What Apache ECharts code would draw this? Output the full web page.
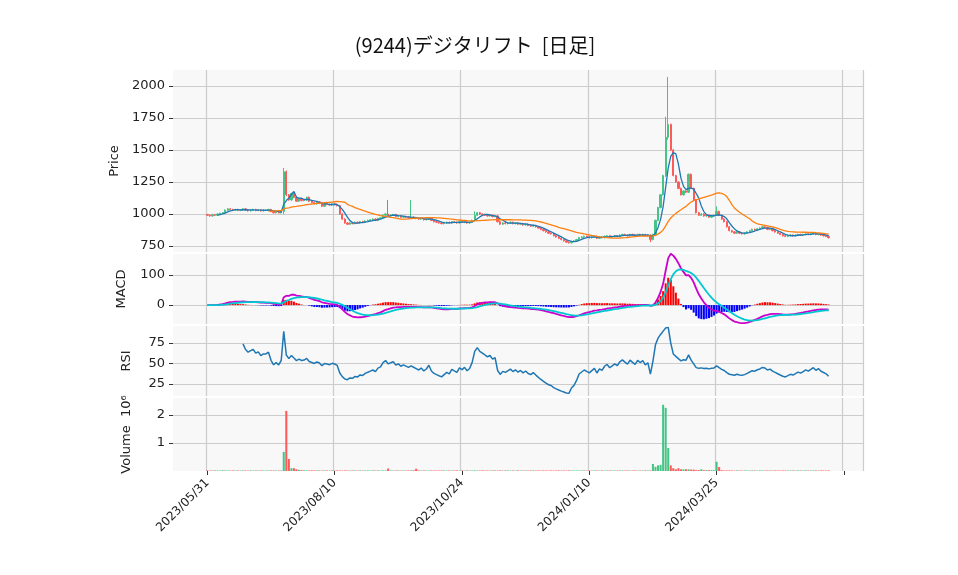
<!DOCTYPE html>
<html>
<head>
  <meta charset="utf-8" />
  <title>ECharts</title>
  <script src="https://cdn.jsdelivr.net/npm/echarts@6/dist/echarts.min.js"></script>
  <style>
    html, body { height: 100%; margin: 0; padding: 0; background: #fff; }
    #main { width: 958px; height: 575px; }
  </style>
</head>
<body>
  <div id="main"></div>
  <script type="text/javascript">
    // trading-day closes (index 0 = 2023/05/31)
    const closes = [
      990, 985, 995, 990, 1000, 1005, 1010, 1030, 1040, 1035,
      1030, 1035, 1028, 1032, 1040, 1030, 1025, 1030, 1035, 1028,
      1032, 1025, 1030, 1030, 1035, 1020, 1010, 1015, 1010, 1020,
      1330, 1150, 1110, 1160, 1130, 1100, 1120, 1105, 1110, 1130,
      1100, 1090, 1080, 1095, 1085, 1060, 1080, 1075, 1070, 1080,
      1075, 1065, 1000, 960, 930, 920, 930, 925, 935, 930,
      940, 935, 945, 950, 955, 960, 950, 965, 970, 990,
      1000, 985, 990, 995, 980, 985, 975, 980, 975, 970,
      975, 970, 965, 960, 965, 955, 960, 970, 950, 940,
      935, 930, 925, 930, 935, 930, 940, 935, 930, 940,
      935, 940, 930, 935, 950, 990, 1010, 1000, 995, 990,
      985, 990, 980, 985, 940, 920, 930, 925, 930, 935,
      925, 930, 920, 925, 915, 920, 910, 905, 910, 900,
      890, 880, 870, 860, 850, 845, 830, 820, 810, 800,
      790, 780, 775, 785, 790, 800, 815, 820, 825, 820,
      815, 820, 825, 810, 820, 815, 825, 830, 820, 825,
      830, 825, 835, 840, 835, 830, 840, 835, 830, 840,
      835, 840, 830, 835, 800, 840, 950, 1050, 1150, 1300,
      1600, 1700, 1500, 1300, 1250, 1200, 1150, 1180, 1170, 1310,
      1200, 1110, 1010, 990, 1000, 985, 990, 975, 985, 990,
      1020, 990, 960, 940, 900, 870, 860, 850, 860, 850,
      845, 850, 860, 870, 880, 875, 885, 890, 900, 895,
      880, 885, 870, 860, 850, 840, 830, 825, 830, 835,
      830, 835, 840, 835, 840, 845, 840, 845, 850, 840,
      845, 835, 830, 825, 815
    ];
    const firstOpen = 995;
    // long wicks visible on the chart: index -> [high, low]
    const wicks = { 30: [1360, 1000], 31: [1340, 1140], 71: [1110, 980], 80: [1110, 965], 105: [1020, 950],
                    174: [840, 780], 181: [2070, 1580], 180: [1760, 1290], 200: [1060, 985] };
    // volume in thousands of shares
    const volumes = [
      20, 15, 20, 18, 20, 15, 25, 20, 18, 15,
      20, 15, 18, 15, 20, 18, 15, 20, 15, 18,
      15, 20, 18, 15, 20, 18, 20, 15, 18, 20,
      680, 2140, 430, 100, 100, 60, 40, 30, 25, 20,
      20, 25, 20, 18, 20, 15, 20, 18, 15, 20,
      15, 20, 18, 15, 20, 18, 15, 20, 18, 15,
      20, 15, 18, 20, 15, 20, 18, 20, 15, 20,
      20, 90, 20, 15, 18, 20, 15, 18, 15, 20,
      20, 25, 80, 20, 15, 20, 18, 15, 20, 15,
      18, 15, 20, 18, 15, 20, 15, 18, 20, 15,
      18, 15, 20, 18, 15, 20, 15, 18, 20, 15,
      18, 15, 20, 18, 15, 20, 15, 18, 20, 15,
      18, 15, 20, 18, 15, 20, 15, 18, 20, 15,
      18, 15, 20, 18, 15, 20, 15, 18, 20, 15,
      18, 15, 20, 18, 15, 20, 15, 18, 20, 15,
      18, 15, 20, 18, 15, 20, 15, 18, 20, 15,
      18, 15, 20, 18, 15, 20, 15, 18, 20, 15,
      18, 15, 20, 18, 20, 250, 150, 200, 220, 2360,
      2250, 820, 200, 100, 60, 100, 60, 60, 60, 60,
      50, 50, 30, 30, 60, 30, 30, 30, 30, 25,
      330, 140, 30, 20, 20, 20, 18, 15, 20, 18,
      15, 20, 18, 15, 20, 18, 15, 20, 18, 15,
      20, 18, 15, 20, 18, 15, 20, 18, 15, 20,
      18, 15, 20, 18, 15, 20, 18, 15, 20, 18,
      15, 20, 18, 15, 20
    ];
    const tickLabels = { 0: '2023/05/31', 50: '2023/08/10', 100: '2023/10/24', 150: '2024/01/10', 200: '2024/03/25', 250: '' };
    const padLeft = 13, padRight = 13;

    const UP = '#45c486', DOWN = '#ff5a5a';
    const n = closes.length;
    const cats = [];
    for (let i = -padLeft; i < n + padRight; i++) cats.push(i);
    const pad = (arr) => Array(padLeft).fill('-').concat(arr).concat(Array(padRight).fill('-'));

    const ohlc = closes.map((c, i) => {
      const o = i === 0 ? firstOpen : closes[i - 1];
      const w = wicks[i] || [Math.max(o, c) + 6, Math.min(o, c) - 6];
      return [o, c, w[1], w[0]];
    });
    const sma = (p) => closes.map((_, i) => {
      if (i < p - 1) return '-';
      let s = 0; for (let k = i - p + 1; k <= i; k++) s += closes[k];
      return +(s / p).toFixed(2);
    });
    const ema = (arr, p) => { const a = 2 / (p + 1); let e = arr[0]; return arr.map(v => (e = e + a * (v - e))); };
    const e12 = ema(closes, 12), e26 = ema(closes, 26);
    const macd = closes.map((_, i) => e12[i] - e26[i]);
    const sig = ema(macd, 9);
    const hist = macd.map((m, i) => m - sig[i]);
    const rsi = closes.map(() => '-');
    let ag = 0, al = 0;
    for (let i = 1; i < n; i++) {
      const d = closes[i] - closes[i - 1];
      const g = Math.max(d, 0), l = Math.max(-d, 0);
      if (i <= 14) { ag += g / 14; al += l / 14; }
      else { ag = (ag * 13 + g) / 14; al = (al * 13 + l) / 14; }
      if (i >= 14) rsi[i] = al === 0 ? 100 : +(100 - 100 / (1 + ag / al)).toFixed(2);
    }

    const grids = [
      { left: 173, width: 690, top: 70, height: 182 },
      { left: 173, width: 690, top: 254, height: 70 },
      { left: 173, width: 690, top: 326, height: 70 },
      { left: 173, width: 690, top: 398, height: 73 }
    ].map(g => Object.assign(g, { show: true, backgroundColor: '#f8f8f8', borderWidth: 0 }));

    const xAxes = grids.map((_, k) => ({
      type: 'category', gridIndex: k, data: cats, boundaryGap: true,
      axisLine: { show: false },
      axisTick: { show: k === 3, length: 4, lineStyle: { color: '#333' }, alignWithLabel: true,
        interval: (i, v) => tickLabels[v] !== undefined },
      axisLabel: { show: k === 3, rotate: 45, fontSize: 12, color: '#222', margin: 10,
        interval: (i, v) => tickLabels[v] !== undefined, formatter: v => tickLabels[v] },
      splitLine: { show: true, interval: (i, v) => tickLabels[v] !== undefined, lineStyle: { color: '#ccc', width: 1.2 } }
    }));

    const yBase = (k, name, min, max, vals, extra) => Object.assign({
      type: 'value', gridIndex: k, min: min, max: max, name: name,
      nameLocation: 'middle', nameGap: 50, nameRotate: 90,
      nameTextStyle: { fontSize: 13, color: '#222' },
      axisLine: { show: false },
      axisTick: { show: true, customValues: vals, length: 4, lineStyle: { color: '#333' } },
      axisLabel: { customValues: vals, fontSize: 13, color: '#222', formatter: v => String(v) },
      splitLine: { show: true, lineStyle: { color: '#ccc', width: 1 } }
    }, extra || {});

    const option = {
      animation: false,
      title: { text: '(9244)デジタリフト  [日足]', left: 470, top: 30, textAlign: 'center',
        textStyle: { fontSize: 20, fontWeight: 'normal', color: '#111', fontFamily: 'Noto Sans CJK JP' } },
      textStyle: { fontFamily: 'DejaVu Sans' },
      grid: grids,
      xAxis: xAxes,
      yAxis: [
        yBase(0, 'Price', 703, 2125, [750, 1000, 1250, 1500, 1750, 2000], { nameGap: 52 }),
        yBase(1, 'MACD', -63, 170, [0, 100], { nameGap: 45 }),
        yBase(2, 'RSI', 10, 96, [25, 50, 75], { nameGap: 40 }),
        yBase(3, 'Volume  10⁶', 0, 2.6, [1, 2], { nameGap: 40 })
      ],
      series: [
        { type: 'candlestick', xAxisIndex: 0, yAxisIndex: 0, barWidth: '70%', data: pad(ohlc),
          itemStyle: { color: UP, color0: DOWN, borderColor: UP, borderColor0: DOWN, borderWidth: 1 } },
        { type: 'line', xAxisIndex: 0, yAxisIndex: 0, data: pad(sma(5)), symbol: 'none',
          lineStyle: { color: '#1f77b4', width: 1.3 } },
        { type: 'line', xAxisIndex: 0, yAxisIndex: 0, data: pad(sma(25)), symbol: 'none',
          lineStyle: { color: '#ff7f0e', width: 1.3 } },
        { type: 'bar', xAxisIndex: 1, yAxisIndex: 1, barWidth: '80%',
          data: pad(hist.map(h => ({ value: +h.toFixed(2), itemStyle: { color: h >= 0 ? '#ff0000' : '#0000ff' } }))) },
        { type: 'line', xAxisIndex: 1, yAxisIndex: 1, data: pad(macd.map(v => +v.toFixed(2))), symbol: 'none',
          lineStyle: { color: '#cc00cc', width: 1.8 } },
        { type: 'line', xAxisIndex: 1, yAxisIndex: 1, data: pad(sig.map(v => +v.toFixed(2))), symbol: 'none',
          lineStyle: { color: '#00c8d0', width: 1.8 } },
        { type: 'line', xAxisIndex: 2, yAxisIndex: 2, data: pad(rsi), symbol: 'none',
          lineStyle: { color: '#1f77b4', width: 1.5 } },
        { type: 'bar', xAxisIndex: 3, yAxisIndex: 3, barWidth: '80%',
          data: pad(volumes.map((v, i) => ({ value: v / 1000, itemStyle: { color: ohlc[i][1] >= ohlc[i][0] ? UP : DOWN } }))) }
      ]
    };

    const myChart = echarts.init(document.getElementById('main'));
    myChart.setOption(option);
  </script>
</body>
</html>
